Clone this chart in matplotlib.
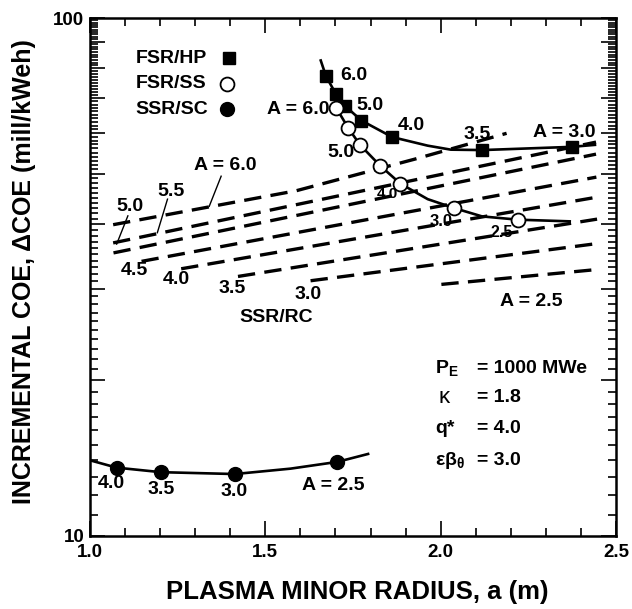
import numpy as np
import matplotlib
matplotlib.use("Agg")
import matplotlib.pyplot as plt

plt.rcParams['font.family'] = ['Liberation Sans', 'DejaVu Sans']
plt.rcParams['font.weight'] = 'bold'
plt.rcParams['mathtext.fontset'] = 'custom'
plt.rcParams['mathtext.rm'] = 'Liberation Sans'
plt.rcParams['mathtext.it'] = 'Liberation Sans:italic'
plt.rcParams['mathtext.bf'] = 'Liberation Sans:bold'

# ---- FSR/HP (filled squares) ----
hp_A = ['6.0', '', '5.0', '', '4.0', '3.5', 'A = 3.0']
hp_x = [1.673, 1.702, 1.728, 1.774, 1.862, 2.119, 2.374]
hp_y = [77.2, 71.2, 67.6, 63.4, 58.9, 55.6, 56.4]
hp_curve_x = [1.658, 1.673, 1.702, 1.728, 1.774, 1.862, 1.963, 2.029, 2.119, 2.374, 2.440]
hp_curve_y = [82.8, 77.2, 71.2, 67.6, 63.4, 58.9, 56.7, 55.7, 55.6, 56.4, 56.9]

# ---- FSR/SS (open circles) ----
ss_x = [1.702, 1.736, 1.770, 1.827, 1.885, 2.039, 2.221]
ss_y = [67.1, 61.4, 56.9, 51.9, 47.9, 42.95, 40.8]
ss_curve_x = [1.702, 1.736, 1.770, 1.827, 1.885, 1.963, 2.039, 2.118, 2.221, 2.368]
ss_curve_y = [67.1, 61.4, 56.9, 51.9, 47.9, 44.7, 42.95, 41.4, 40.8, 40.5]

# ---- SSR/SC (filled circles) ----
sc_x = [1.076, 1.202, 1.413, 1.705]
sc_y = [13.55, 13.28, 13.17, 13.9]
sc_curve_x = [1.000, 1.076, 1.202, 1.413, 1.572, 1.705, 1.793]
sc_curve_y = [14.0, 13.55, 13.28, 13.17, 13.49, 13.9, 14.4]

# ---- SSR/RC (dashed, one line per aspect ratio A) ----
rc_A = ['6.0', '5.5', '5.0', '4.5', '4.0', '3.5', '3.0', '2.5']
rc_x = [[1.066, 1.588, 1.926, 2.188],
        [1.066, 2.443],
        [1.067, 2.443],
        [1.147, 2.444],
        [1.260, 2.446],
        [1.422, 2.446],
        [1.629, 2.447],
        [2.002, 2.447]]
rc_y = [[39.9, 46.4, 53.4, 59.9],
        [36.8, 57.6],
        [35.2, 54.6],
        [33.9, 49.3],
        [32.8, 45.1],
        [31.7, 40.9],
        [31.1, 36.7],
        [30.6, 32.7]]

x_ticks = [1.0, 1.5, 2.0, 2.5]
x_ticklabels = ['1.0', '1.5', '2.0', '2.5']

fig = plt.figure(figsize=(6.32, 6.09), dpi=100)
ax = fig.add_axes([0.1424, 0.1199, 0.8323, 0.8505])
ax.set_yscale('log')
ax.set_xlim(1.0, 2.5)
ax.set_ylim(10, 100)

lw_curve = 1.9
# FSR/HP
ax.plot(hp_curve_x, hp_curve_y, color='black', lw=lw_curve, zorder=3)
ax.plot(hp_x, hp_y, ls='none', marker='s', ms=8, mfc='black', mec='black', zorder=4)
# FSR/SS
ax.plot(ss_curve_x, ss_curve_y, color='black', lw=lw_curve, zorder=3)
ax.plot(ss_x, ss_y, ls='none', marker='o', ms=10, mfc='white', mec='black', mew=1.3, zorder=5)
# SSR/SC
ax.plot(sc_curve_x, sc_curve_y, color='black', lw=lw_curve, zorder=3)
ax.plot(sc_x, sc_y, ls='none', marker='o', ms=10, mfc='black', mec='black', zorder=4)
# SSR/RC dashed family
for xs, ys in zip(rc_x, rc_y):
    ax.plot(xs, ys, color='black', lw=2.4, ls=(0, (5.2, 2.8)), dash_capstyle='butt', zorder=2)

# legend block
fs_lab = 14
leg_y = [83.7, 74.6, 66.7]
leg_txt = ['FSR/HP', 'FSR/SS', 'SSR/SC']
ax.text(1.130, leg_y[0], leg_txt[0], fontsize=fs_lab, va='center', ha='left')
ax.text(1.130, leg_y[1], leg_txt[1], fontsize=fs_lab, va='center', ha='left')
ax.text(1.130, leg_y[2], leg_txt[2], fontsize=fs_lab, va='center', ha='left')
ax.plot([1.396], [leg_y[0]], marker='s', ms=8, color='black', ls='none')
ax.plot([1.390], [leg_y[1]], marker='o', ms=10, mfc='white', mec='black', mew=1.3, ls='none')
ax.plot([1.390], [leg_y[2]], marker='o', ms=10, color='black', ls='none')

# FSR/HP point labels
ax.text(1.753, 77.3, '6.0', fontsize=fs_lab, ha='center', va='center')
ax.text(1.798, 67.9, '5.0', fontsize=fs_lab, ha='center', va='center')
ax.text(1.917, 61.9, '4.0', fontsize=fs_lab, ha='center', va='center')
ax.text(2.104, 59.7, '3.5', fontsize=fs_lab, ha='center', va='center')
ax.text(2.353, 60.0, 'A = 3.0', fontsize=fs_lab, ha='center', va='center')

# FSR/SS point labels
ax.text(1.594, 66.7, 'A = 6.0', fontsize=fs_lab, ha='center', va='center')
ax.text(1.716, 54.9, '5.0', fontsize=fs_lab, ha='center', va='center')
ax.text(1.849, 45.7, '4.0', fontsize=11, ha='center', va='center')
ax.text(2.002, 40.5, '3.0', fontsize=12, ha='center', va='center')
ax.text(2.175, 38.5, '2.5', fontsize=11.5, ha='center', va='center')

# SSR/RC labels with leaders
ax.text(1.385, 51.8, 'A = 6.0', fontsize=fs_lab, ha='center', va='center')
ax.plot([1.374, 1.340], [49.5, 43.3], color='black', lw=1.0)
ax.text(1.232, 46.3, '5.5', fontsize=fs_lab, ha='center', va='center')
ax.plot([1.221, 1.192], [44.7, 38.5], color='black', lw=1.0)
ax.text(1.113, 43.2, '5.0', fontsize=fs_lab, ha='center', va='center')
ax.plot([1.108, 1.076], [41.5, 36.6], color='black', lw=1.0)
ax.text(1.127, 32.5, '4.5', fontsize=fs_lab, ha='center', va='center')
ax.text(1.246, 31.3, '4.0', fontsize=fs_lab, ha='center', va='center')
ax.text(1.405, 30.1, '3.5', fontsize=fs_lab, ha='center', va='center')
ax.text(1.623, 29.3, '3.0', fontsize=fs_lab, ha='center', va='center')
ax.text(2.259, 28.4, 'A = 2.5', fontsize=fs_lab, ha='center', va='center')
ax.text(1.532, 26.4, 'SSR/RC', fontsize=fs_lab, ha='center', va='center')

# SSR/SC point labels
ax.text(1.062, 12.6, '4.0', fontsize=fs_lab, ha='center', va='center')
ax.text(1.204, 12.32, '3.5', fontsize=fs_lab, ha='center', va='center')
ax.text(1.410, 12.2, '3.0', fontsize=fs_lab, ha='center', va='center')
ax.text(1.693, 12.49, 'A = 2.5', fontsize=fs_lab, ha='center', va='center')

# design parameters
px0, px1 = 1.985, 2.105
ax.text(px0, 21.1, r'$\mathbf{P_E}$', fontsize=fs_lab, ha='left', va='center')
ax.text(px1, 21.1, '= 1000 MWe', fontsize=fs_lab, ha='left', va='center')
ax.text(px0 + 0.01, 18.5, 'κ', fontsize=16, ha='left', va='center', fontweight='normal')
ax.text(px1, 18.5, '= 1.8', fontsize=fs_lab, ha='left', va='center')
ax.text(px0, 16.1, 'q*', fontsize=fs_lab, ha='left', va='center')
ax.text(px1, 16.1, '= 4.0', fontsize=fs_lab, ha='left', va='center')
ax.text(px0, 13.96, r'$\mathrm{εβ}_{\mathrm{θ}}$', fontsize=fs_lab, ha='left', va='center')
ax.text(px1, 13.96, '= 3.0', fontsize=fs_lab, ha='left', va='center')

# axes, ticks
ax.set_xticks(x_ticks)
ax.set_xticklabels(x_ticklabels)
ax.set_xticks(np.arange(1.1, 2.45, 0.1), minor=True)
major_y = [10, 20, 30, 40, 50, 60, 70, 80, 90, 100]
ax.set_yticks(major_y)
ax.set_yticklabels(['10'] + [''] * 8 + ['100'])
ax.set_yticks([v for v in range(11, 100) if v % 10 != 0], minor=True)
ax.yaxis.set_minor_formatter(plt.NullFormatter())
ax.tick_params(which='both', direction='in', top=True, right=True, width=1.2)
ax.tick_params(axis='x', which='major', length=11, labelsize=13.5, pad=6)
ax.tick_params(axis='x', which='minor', length=6)
ax.tick_params(axis='y', which='major', length=11, labelsize=13.5, pad=4)
ax.tick_params(axis='y', which='minor', length=6)
for sp in ax.spines.values():
    sp.set_linewidth(1.8)

fig.text(357 / 632, 1 - 592 / 609, 'PLASMA MINOR RADIUS, a (m)', fontsize=18.5,
         ha='center', va='center')
fig.text(24 / 632, 1 - 272 / 609, 'INCREMENTAL COE, ΔCOE (mill/kWeh)', fontsize=18,
         ha='center', va='center', rotation=90)

fig.savefig('out.png', dpi=100)
